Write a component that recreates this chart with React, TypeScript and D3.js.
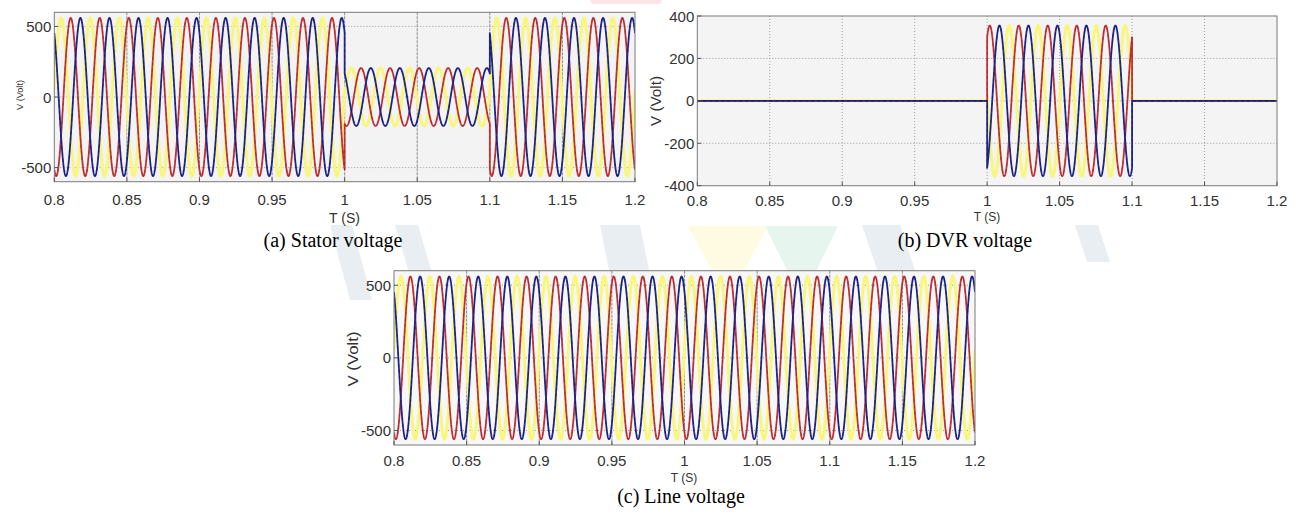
import { useEffect, useRef } from 'react';
import * as d3 from 'd3';

// axis ticks
const timeTicks = [0.8, 0.85, 0.9, 0.95, 1, 1.05, 1.1, 1.15, 1.2];
const statorTicksY = [-500, 0, 500];
const dvrTicksY = [-400, -200, 0, 200, 400];
const lineTicksY = [-500, 0, 500];

// three phases (yellow, red, blue): time of a positive peak
const phaseNames = ['yellow', 'red', 'blue'];
const gridPeakTimes = [0.8047, 0.8113, 0.818];
const dvrPeakTimes = [1.0152, 1.0018, 1.0085];
const supplyFrequency = 50; // Hz

// peak amplitude per time segment (sag from 1.0 s to 1.1 s)
const segmentStarts = [0.8, 1.0, 1.1];
const statorAmplitudes = [560, 205, 560];
const dvrAmplitudes = [0, 355, 0];
const lineAmplitudes = [560, 560, 560];

const phaseStyle = {
  yellow: { color: '#f8f77c', width: 3, dash: null },
  red: { color: '#c4363a', width: 1.8, dash: '#7e1f24' },
  blue: { color: '#232a8e', width: 1.8, dash: '#0c0f40' },
};

const panels = [
  {
    id: 'a', left: 54.3, right: 635, top: 12.3, bottom: 181.7, yMax: 600,
    yTicks: statorTicksY, amps: statorAmplitudes, peaks: gridPeakTimes,
    bg: '#f3f3f3', tickFont: 15, xLabelY: 199,
    tLabel: { x: 344.5, y: 218, size: 14 },
    vLabel: { x: 20, y: 95, size: 9, len: 30 },
    caption: { text: '(a) Stator voltage', x: 333, y: 247 },
    vGridDash: '3,1', vGridColor: '#8c8c8c',
  },
  {
    id: 'b', left: 697.3, right: 1277, top: 16, bottom: 185.7, yMax: 400,
    yTicks: dvrTicksY, amps: dvrAmplitudes, peaks: dvrPeakTimes,
    bg: '#f4f4f4', tickFont: 15, xLabelY: 200,
    tLabel: { x: 987, y: 217, size: 12 },
    vLabel: { x: 656, y: 101, size: 14, len: 50 },
    caption: { text: '(b) DVR voltage', x: 965, y: 247 },
    vGridDash: '1,2', vGridColor: '#a0a0a0',
  },
  {
    id: 'c', left: 394, right: 975, top: 270.7, bottom: 445, yMax: 600,
    yTicks: lineTicksY, amps: lineAmplitudes, peaks: gridPeakTimes,
    bg: '#f7f7f7', tickFont: 15, xLabelY: 460,
    tLabel: { x: 684, y: 478, size: 12 },
    vLabel: { x: 353, y: 359, size: 14, len: 55 },
    caption: { text: '(c) Line voltage', x: 681, y: 503 },
    vGridDash: '3,1', vGridColor: '#8c8c8c',
  },
];

// faint page watermark behind the figure
const watermark = [
  { pts: '330,225 352,225 372,300 350,300', fill: '#e9eef2' },
  { pts: '395,225 418,225 440,300 417,300', fill: '#e9eef2' },
  { pts: '600,225 640,225 655,300 615,300', fill: '#e9eef2' },
  { pts: '688,226 768,226 728,300', fill: '#fffbe2' },
  { pts: '765,226 838,226 802,300', fill: '#e6f6ee' },
  { pts: '862,225 900,225 925,300 887,300', fill: '#e9eef2' },
  { pts: '1075,225 1098,225 1110,262 1087,262', fill: '#e9eef2' },
  { pts: '590,0 662,0 660,4 592,4', fill: '#fde4e6' },
];

const App = () => {
  const svgRef = useRef(null);

  useEffect(() => {
    const svg = d3.select(svgRef.current);
    svg.selectAll('*').remove();

    svg.append('g').selectAll('polygon').data(watermark).enter().append('polygon')
      .attr('points', d => d.pts).attr('fill', d => d.fill);

    // sample times with both sides of each step change
    const times = d3.range(0.8, 1.2 + 1e-9, 0.0001)
      .concat(segmentStarts.slice(1).map(t => t - 1e-7))
      .sort((p, q) => p - q);

    panels.forEach(p => {
      const x = d3.scaleLinear().domain([0.8, 1.2]).range([p.left, p.right]);
      const y = d3.scaleLinear().domain([-p.yMax, p.yMax]).range([p.bottom, p.top]);
      const g = svg.append('g');

      g.append('clipPath').attr('id', `clip-${p.id}`)
        .append('rect')
        .attr('x', p.left).attr('y', p.top)
        .attr('width', p.right - p.left).attr('height', p.bottom - p.top);

      g.append('rect')
        .attr('x', p.left).attr('y', p.top)
        .attr('width', p.right - p.left).attr('height', p.bottom - p.top)
        .attr('fill', p.bg);

      // grid
      g.selectAll('.vgrid').data(timeTicks.slice(1, -1)).enter().append('line')
        .attr('x1', d => x(d)).attr('x2', d => x(d))
        .attr('y1', p.top).attr('y2', p.bottom)
        .attr('stroke', p.vGridColor).attr('stroke-dasharray', p.vGridDash);
      g.selectAll('.hgrid').data(p.yTicks.filter(v => Math.abs(v) < p.yMax)).enter().append('line')
        .attr('x1', p.left).attr('x2', p.right)
        .attr('y1', d => y(d)).attr('y2', d => y(d))
        .attr('stroke', '#9a9a9a').attr('stroke-dasharray', '1,2');

      // waveforms
      const lines = g.append('g').attr('clip-path', `url(#clip-${p.id})`);
      phaseNames.forEach((name, i) => {
        const value = t => {
          const seg = d3.bisectRight(segmentStarts, t + 1e-12) - 1;
          return p.amps[Math.max(seg, 0)] * Math.cos(2 * Math.PI * supplyFrequency * (t - p.peaks[i]));
        };
        const line = d3.line().x(t => x(t)).y(t => y(value(t)));
        const st = phaseStyle[name];
        lines.append('path').datum(times)
          .attr('d', line).attr('fill', 'none')
          .attr('stroke', st.color).attr('stroke-width', st.width)
          .attr('stroke-linejoin', 'round');
        if (st.dash) {
          lines.append('path').datum(times)
            .attr('d', line).attr('fill', 'none')
            .attr('stroke', st.dash).attr('stroke-width', 0.7)
            .attr('stroke-dasharray', '3,3').attr('opacity', 0.6);
        }
      });

      // frame and ticks
      g.append('rect')
        .attr('x', p.left).attr('y', p.top)
        .attr('width', p.right - p.left).attr('height', p.bottom - p.top)
        .attr('fill', 'none').attr('stroke', '#7a7a7a').attr('stroke-width', 1);
      g.selectAll('.xt').data(timeTicks).enter().append('line')
        .attr('x1', d => x(d)).attr('x2', d => x(d))
        .attr('y1', p.bottom).attr('y2', p.bottom - 4)
        .attr('stroke', '#555');
      g.selectAll('.yt').data(p.yTicks).enter().append('line')
        .attr('x1', p.left).attr('x2', p.left + 4)
        .attr('y1', d => y(d)).attr('y2', d => y(d))
        .attr('stroke', '#555');

      const sans = 'Liberation Sans, Arial, sans-serif';
      g.selectAll('.xl').data(timeTicks).enter().append('text')
        .attr('x', d => x(d)).attr('y', p.xLabelY)
        .attr('text-anchor', 'middle').attr('dominant-baseline', 'central')
        .attr('font-family', sans).attr('font-size', p.tickFont).attr('fill', '#333')
        .text(d => d3.format('~g')(d));
      g.selectAll('.yl').data(p.yTicks).enter().append('text')
        .attr('x', p.left - 3).attr('y', d => y(d))
        .attr('text-anchor', 'end').attr('dominant-baseline', 'central')
        .attr('font-family', sans).attr('font-size', p.tickFont).attr('fill', '#333')
        .text(d => d);

      g.append('text')
        .attr('x', p.tLabel.x).attr('y', p.tLabel.y)
        .attr('text-anchor', 'middle').attr('dominant-baseline', 'central')
        .attr('font-family', sans).attr('font-size', p.tLabel.size).attr('fill', '#333')
        .text('T (S)');
      g.append('text')
        .attr('transform', `translate(${p.vLabel.x},${p.vLabel.y}) rotate(-90)`)
        .attr('text-anchor', 'middle').attr('dominant-baseline', 'central')
        .attr('font-family', sans).attr('font-size', p.vLabel.size).attr('fill', '#333')
        .attr('textLength', p.vLabel.len).attr('lengthAdjust', 'spacingAndGlyphs')
        .text('V (Volt)');

      g.append('text')
        .attr('x', p.caption.x).attr('y', p.caption.y)
        .attr('text-anchor', 'middle')
        .attr('font-family', 'Liberation Serif, Times New Roman, serif')
        .attr('font-size', 20).attr('fill', '#000')
        .text(p.caption.text);
    });
  }, []);

  return (
    <svg ref={svgRef} width={1295} height={521}
      style={{ position: 'absolute', left: 0, top: 0, background: '#fff' }} />
  );
};

export default App;
